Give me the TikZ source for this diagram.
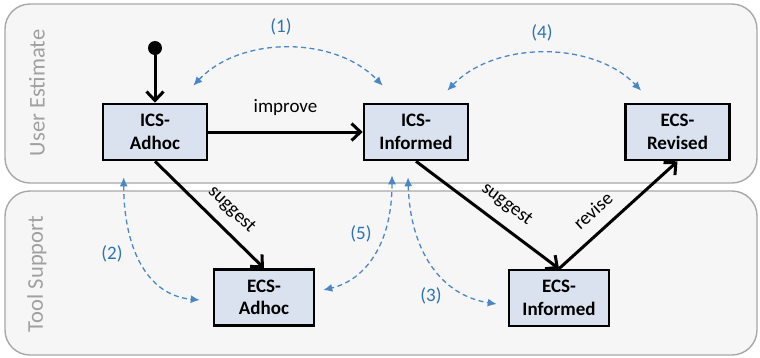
\documentclass[tikz,border=0pt]{standalone}
\usepackage{fontspec}
\setmainfont{Carlito}
\usepackage{xcolor}
\usepackage{tikz}
\usetikzlibrary{arrows.meta,positioning,calc}
\definecolor{lanefill}{HTML}{F6F6F6}
\definecolor{lanedraw}{HTML}{A8A8A8}
\definecolor{lanetext}{HTML}{A0A0A0}
\definecolor{boxfill}{HTML}{DAE2EF}
\definecolor{lblue}{HTML}{4A87C8}
\definecolor{nblue}{HTML}{2E74B5}
\tikzset{
  % swim lanes in the background
  lane/.style    = {draw=lanedraw, fill=lanefill, line width=1.4pt, rounded corners=25pt},
  lanelbl/.style = {rotate=90, font=\fontsize{22.5}{27}\selectfont, text=lanetext, inner sep=0pt},
  % states and transitions
  state/.style   = {rectangle, draw=black, fill=boxfill, line width=2.6pt, align=center,
                    minimum width=104pt, minimum height=56pt, inner sep=2pt,
                    font=\fontsize{19}{22.5}\selectfont\bfseries},
  init/.style    = {circle, fill=black, minimum size=14pt, inner sep=0pt},
  flow/.style    = {-{Straight Barb[length=9pt,width=17pt]}, line width=3pt, black},
  link/.style    = {{Latex[length=9pt,width=8pt]}-{Latex[length=9pt,width=8pt]},
                    dash pattern=on 5pt off 3.5pt, line width=1.3pt, lblue},
  tag/.style     = {font=\fontsize{19}{22}\selectfont, inner sep=2pt},
  num/.style     = {font=\fontsize{19}{22}\selectfont, text=nblue, inner sep=1pt},
}

\begin{document}
\begin{tikzpicture}[x=1pt,y=-1pt]
\useasboundingbox (0,0) rectangle (760,357);
% lanes
\draw[lane] (5,4) rectangle (757,183);
\draw[lane] (5,191) rectangle (757,355);
\node[lanelbl] (ue) at (37,93) {User Estimate};
\node[lanelbl] (ts) at (37,274) {Tool Support};
% states
\node[init] (start) at (155,48) {};
\node[state] (icsadhoc) at (155,132) {ICS-\\Adhoc};
\node[state] (icsinf) at (416,132) {ICS-\\Informed};
\node[state] (ecsrev) at (677.5,132) {ECS-\\Revised};
\node[state, minimum width=100pt] (ecsadhoc) at (264,297.5) {ECS-\\Adhoc};
\node[state, minimum width=100pt] (ecsinf) at (559,298) {ECS-\\Informed};
% transitions
\draw[flow] (start) -- (icsadhoc);
\draw[flow] (icsadhoc) -- node[tag, above=13pt] {improve} (icsinf);
\draw[flow] (icsadhoc.south) -- node[tag, sloped, above=8pt, pos=0.58] {suggest} (ecsadhoc.north);
\draw[flow] (icsinf.south) -- node[tag, sloped, above=9pt, pos=0.55] {suggest} (ecsinf.north);
\draw[flow] (ecsinf.north) -- node[tag, sloped, above=10pt, pos=0.4] {revise} (ecsrev.south);
% link ends
\coordinate (l1a) at ([shift={(-15,-17)}]icsadhoc.north east);
\coordinate (l1b) at ([shift={(20,-17)}]icsinf.north west);
\coordinate (l4a) at ([shift={(-22,-12)}]icsinf.north east);
\coordinate (l4b) at ([shift={(17,-12)}]ecsrev.north west);
\coordinate (l2a) at ([shift={(22,16)}]icsadhoc.south west);
\coordinate (l2b) at ([shift={(-13,2.5)}]ecsadhoc.west);
\coordinate (l5a) at ([shift={(-24,14)}]icsinf.south);
\coordinate (l5b) at ([shift={(8,-7.5)}]ecsadhoc.east);
\coordinate (l3a) at ([shift={(-8,16)}]icsinf.south);
\coordinate (l3b) at ([shift={(-11,6)}]ecsinf.west);
% links
\draw[link] (l1a) .. controls +(47,-50) and +(-48,-50) .. (l1b);
\draw[link] (l4a) .. controls +(48,-50) and +(-48,-50) .. (l4b);
\draw[link] (l2a) .. controls +(0,67) and +(-55,-5) .. (l2b);
\draw[link] (l5a) .. controls +(0,69) and +(42,-10) .. (l5b);
\draw[link] (l3a) .. controls +(2,72) and +(-57,-9) .. (l3b);
\node[num] (n1) at (281,27) {(1)};
\node[num] (n2) at (112,254) {(2)};
\node[num] (n3) at (431,296) {(3)};
\node[num] (n4) at (542,33) {(4)};
\node[num] (n5) at (361,234) {(5)};
\end{tikzpicture}
\end{document}
